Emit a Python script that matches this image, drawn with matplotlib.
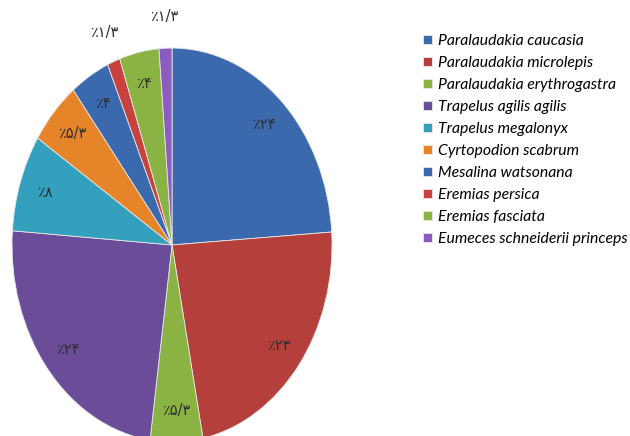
import matplotlib
matplotlib.use("Agg")
import matplotlib.pyplot as plt
import numpy as np

species = ["Paralaudakia caucasia", "Paralaudakia microlepis", "Paralaudakia erythrogastra",
           "Trapelus agilis agilis", "Trapelus megalonyx", "Cyrtopodion scabrum",
           "Mesalina watsonana", "Eremias persica", "Eremias fasciata",
           "Eumeces schneiderii princeps"]
values = [24, 23, 5.3, 24, 8, 5.3, 4, 1.3, 4, 1.3]
value_labels = ["٪۲۴", "٪۲۳", "٪۵/۳", "٪۲۴", "٪۸", "٪۵/۳", "٪۴", "٪۱/۳", "٪۴", "٪۱/۳"]
colors = ["#3a69ad", "#b5403b", "#8ab343", "#6b4c98", "#33a0be", "#e6842a",
          "#3a69ad", "#c8423d", "#8ab343", "#8a5cc0"]

fig = plt.figure(figsize=(6.3, 4.36), dpi=100)
ax = fig.add_axes([0, 0, 345 / 630, 1])
wedges, _ = ax.pie(values, colors=colors, startangle=90, counterclock=False,
                   wedgeprops=dict(edgecolor="#e8e8e8", linewidth=0.6))
ax.set_aspect("auto")
ax.set_xlim(-1.075, 1.081)
ax.set_ylim(-0.970, 1.244)

total = sum(values)
cum = 0
for v, lab in zip(values, value_labels):
    mid = 90 - (cum + v / 2) / total * 360
    cum += v
    r = 0.84 if v > 2 else 1.16
    ax.text(r * np.cos(np.radians(mid)), r * np.sin(np.radians(mid)), lab,
            ha="center", va="center", fontsize=10.5, color="#2e2e2e",
            family=["DejaVu Sans"])

fig.legend(wedges, species, loc="upper left", bbox_to_anchor=(423 / 630, 1 - 34 / 436),
           frameon=False, handlelength=0.55, handleheight=0.55, handletextpad=0.4,
           labelspacing=0.51, borderpad=0, borderaxespad=0,
           prop=dict(family="Lato", style="italic", size=11.3))
fig.savefig("out.png", dpi=100)
